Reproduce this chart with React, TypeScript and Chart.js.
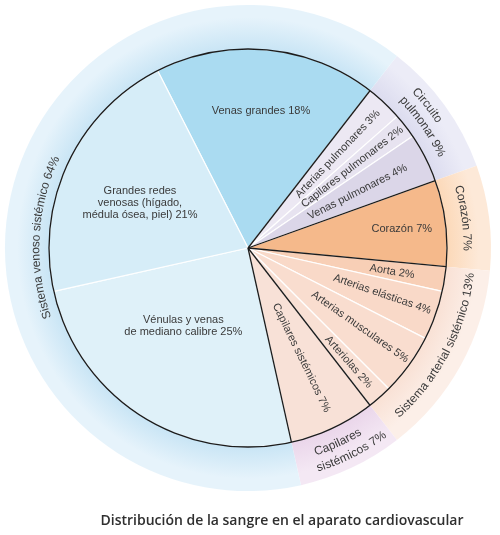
import { useEffect, useRef } from "react";
import { Chart, registerables } from "chart.js";

Chart.register(...registerables);

// Share of total blood volume held by each vessel segment (%)
const segmentLines: string[][] = [
  ["Venas grandes"],
  ["Arterias pulmonares"],
  ["Capilares pulmonares"],
  ["Venas pulmonares"],
  ["Corazón"],
  ["Aorta"],
  ["Arterias elásticas"],
  ["Arterias musculares"],
  ["Arteriolas"],
  ["Capilares sistémicos"],
  ["Vénulas y venas", "de mediano calibre"],
  ["Grandes redes", "venosas (hígado,", "médula ósea, piel)"],
];
const segmentValues = [18, 3, 2, 4, 7, 2, 4, 5, 2, 7, 25, 21];
// index into the group arrays below
const segmentGroup = [4, 0, 0, 0, 1, 2, 2, 2, 2, 3, 4, 4];
const segmentColors = [
  "#aadbf1",
  "#ece8f3",
  "#e7e3f0",
  "#dbd6e8",
  "#f5b98b",
  "#f8cfb6",
  "#f9d9c8",
  "#f9ddcf",
  "#f9e0d4",
  "#f8e1d7",
  "#dff1f9",
  "#d6edf8",
];

// Circulation groups shown on the outer ring (%)
const groupLines: string[][] = [
  ["Circuito", "pulmonar"],
  ["Corazón"],
  ["Sistema arterial sistémico"],
  ["Capilares", "sistémicos"],
  ["Sistema venoso sistémico"],
];
const groupValues = [9, 7, 13, 7, 64];
const groupColors = ["#dcdcef", "#fcd9b9", "#f9e1d5", "#ead6ea", "#c9e5f5"];
const groupEdgeColors = ["#ececf7", "#fde9d8", "#fcefe8", "#f4e8f4", "#e6f3fb"];

const title = "Distribución de la sangre en el aparato cardiovascular";
const startAngle = -27;

const FONT = "'Liberation Sans', Arial, Helvetica, sans-serif";
const TEXT = "#3a3a3a";

type SegPlace = { kind: "flat" | "radial"; r: number; da: number };
const segmentPlacement: SegPlace[] = [
  { kind: "flat", r: 138, da: 0 },
  { kind: "radial", r: 130, da: 0.5 },
  { kind: "radial", r: 132, da: 0 },
  { kind: "radial", r: 123, da: 0 },
  { kind: "flat", r: 155, da: 0 },
  { kind: "radial", r: 146, da: 0.3 },
  { kind: "radial", r: 142, da: -0.8 },
  { kind: "radial", r: 137, da: -0.8 },
  { kind: "radial", r: 152, da: 0 },
  { kind: "radial", r: 122, da: -0.7 },
  { kind: "flat", r: 101, da: 7.4 },
  { kind: "flat", r: 117, da: -2.6 },
];

type GroupPlace = { outward: boolean; lines: { r: number; da: number }[] };
const groupPlacement: GroupPlace[] = [
  { outward: true, lines: [{ r: 229.5, da: -2.5 }, { r: 214.5, da: 1.2 }] },
  { outward: true, lines: [{ r: 219, da: -0.7 }] },
  { outward: false, lines: [{ r: 224, da: -1.4 }] },
  { outward: false, lines: [{ r: 215, da: 0.4 }, { r: 231, da: -1.7 }] },
  { outward: true, lines: [{ r: 212, da: -9.6 }] },
];

const rad = (d: number) => (d * Math.PI) / 180;

function withValue(lines: string[], value: number): string[] {
  const out = lines.slice();
  out[out.length - 1] = `${out[out.length - 1]} ${value}%`;
  return out;
}

function arcText(
  ctx: CanvasRenderingContext2D,
  text: string,
  cx: number,
  cy: number,
  r: number,
  center: number,
  outward: boolean
) {
  const chars = Array.from(text);
  const widths = chars.map((ch) => ctx.measureText(ch).width);
  const total = widths.reduce((a, b) => a + b, 0);
  let a = outward ? center - total / (2 * r) : center + total / (2 * r);
  chars.forEach((ch, i) => {
    const w = widths[i];
    const m = outward ? a + w / (2 * r) : a - w / (2 * r);
    ctx.save();
    ctx.translate(cx + r * Math.cos(m), cy + r * Math.sin(m));
    ctx.rotate(outward ? m + Math.PI / 2 : m - Math.PI / 2);
    ctx.fillText(ch, 0, 0);
    ctx.restore();
    a += outward ? w / r : -w / r;
  });
}

const wheelPlugin = {
  id: "wheelDecor",
  afterDatasetsDraw(chart: any) {
    const ctx: CanvasRenderingContext2D = chart.ctx;
    const inner = chart.getDatasetMeta(1).data as any[];
    const outer = chart.getDatasetMeta(0).data as any[];
    if (!inner.length) return;
    const cx = inner[0].x;
    const cy = inner[0].y;
    const R = inner[0].outerRadius;

    // group boundaries and rim
    ctx.save();
    ctx.strokeStyle = "#1c1c1c";
    ctx.lineWidth = 1.3;
    inner.forEach((arc, i) => {
      const prev = (i - 1 + inner.length) % inner.length;
      if (segmentGroup[i] !== segmentGroup[prev]) {
        ctx.beginPath();
        ctx.moveTo(cx, cy);
        ctx.lineTo(cx + R * Math.cos(arc.startAngle), cy + R * Math.sin(arc.startAngle));
        ctx.stroke();
      }
    });
    ctx.beginPath();
    ctx.arc(cx, cy, R, 0, Math.PI * 2);
    ctx.stroke();
    ctx.restore();

    // segment labels
    ctx.save();
    ctx.fillStyle = TEXT;
    ctx.font = `11px ${FONT}`;
    ctx.textAlign = "center";
    ctx.textBaseline = "middle";
    inner.forEach((arc, i) => {
      const p = segmentPlacement[i];
      const mid = (arc.startAngle + arc.endAngle) / 2 + rad(p.da);
      const x = cx + p.r * Math.cos(mid);
      const y = cy + p.r * Math.sin(mid);
      const lines = withValue(segmentLines[i], segmentValues[i]);
      if (p.kind === "flat") {
        const lh = 12;
        lines.forEach((ln, k) => {
          ctx.fillText(ln, x, y + (k - (lines.length - 1) / 2) * lh);
        });
      } else {
        ctx.save();
        ctx.translate(x, y);
        ctx.rotate(mid);
        ctx.fillText(lines.join(" "), 0, 0);
        ctx.restore();
      }
    });
    ctx.restore();

    // group labels curved along the outer ring
    ctx.save();
    ctx.fillStyle = TEXT;
    ctx.font = `12px ${FONT}`;
    ctx.textAlign = "center";
    ctx.textBaseline = "middle";
    outer.forEach((arc, g) => {
      const p = groupPlacement[g];
      const mid = (arc.startAngle + arc.endAngle) / 2;
      const lines = withValue(groupLines[g], groupValues[g]);
      lines.forEach((ln, k) => {
        const lp = p.lines[k];
        arcText(ctx, ln, cx, cy, lp.r, mid + rad(lp.da), p.outward);
      });
    });
    ctx.restore();
  },
  afterDraw(chart: any) {
    const ctx: CanvasRenderingContext2D = chart.ctx;
    ctx.save();
    ctx.fillStyle = "#2f2f2f";
    ctx.font = `600 14px 'Open Sans', 'Noto Sans', sans-serif`;
    ctx.textAlign = "center";
    ctx.textBaseline = "middle";
    ctx.fillText(title, 282, 521);
    ctx.restore();
  },
};

export default function App() {
  const canvasRef = useRef<HTMLCanvasElement | null>(null);

  useEffect(() => {
    const canvas = canvasRef.current;
    if (!canvas) return;

    const total = segmentValues.reduce((a, b) => a + b, 0);
    // the outer ring starts where the first non-venous segment starts
    const venous = groupValues.length - 1;
    let lead = 0;
    for (let i = 0; i < segmentValues.length && segmentGroup[i] === venous; i++) lead += segmentValues[i];
    const outerRotation = startAngle + (lead / total) * 360;

    const ringFill = (c: any) => {
      const chart = c.chart;
      const area = chart.chartArea;
      const i = c.dataIndex ?? 0;
      if (!area) return groupColors[i];
      const x = (area.left + area.right) / 2;
      const y = (area.top + area.bottom) / 2;
      const r = Math.min(area.right - area.left, area.bottom - area.top) / 2;
      const g = chart.ctx.createRadialGradient(x, y, 0, x, y, r);
      g.addColorStop(0, groupColors[i]);
      g.addColorStop(0.82, groupColors[i]);
      g.addColorStop(0.95, groupEdgeColors[i]);
      g.addColorStop(1, groupEdgeColors[i]);
      return g;
    };

    const chart = new Chart(canvas, {
      type: "pie",
      data: {
        labels: segmentLines.map((l) => l.join(" ")),
        datasets: [
          {
            data: groupValues,
            backgroundColor: ringFill,
            borderWidth: 0,
            weight: 44,
            rotation: outerRotation,
          } as any,
          {
            data: segmentValues,
            backgroundColor: segmentColors,
            borderColor: "rgba(255,255,255,0.95)",
            borderWidth: 1.2,
            weight: 199,
          } as any,
        ],
      },
      options: {
        responsive: false,
        animation: false,
        devicePixelRatio: 1,
        events: [],
        rotation: startAngle,
        radius: 243,
        hoverOffset: 0,
        layout: { padding: { left: 5, top: 5, right: 9, bottom: 44 } },
        plugins: {
          legend: { display: false },
          tooltip: { enabled: false },
          title: { display: false },
        },
      } as any,
      plugins: [wheelPlugin],
    });

    return () => chart.destroy();
  }, []);

  return (
    <div style={{ position: "fixed", left: 0, top: 0, width: 500, height: 535, background: "#fff" }}>
      <canvas ref={canvasRef} width={500} height={535} style={{ display: "block" }} />
    </div>
  );
}
